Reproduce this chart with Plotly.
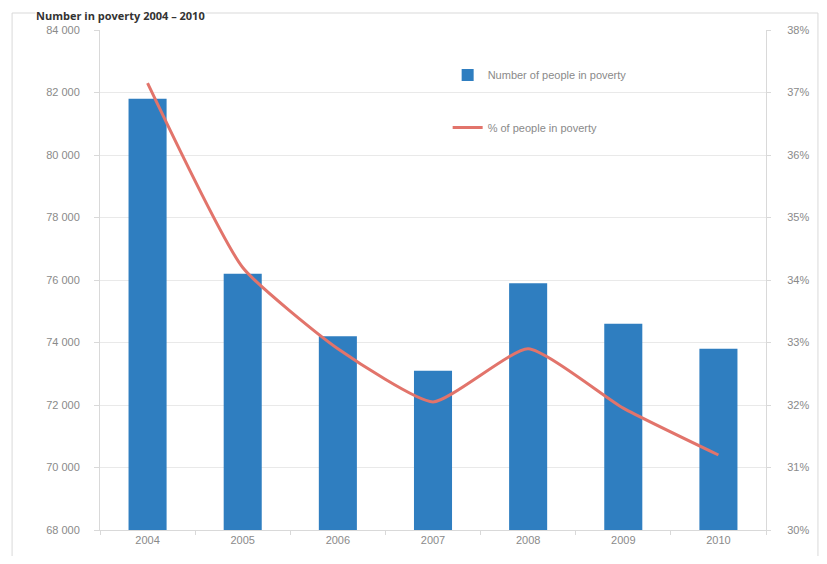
import plotly.graph_objects as go

years = ["2004", "2005", "2006", "2007", "2008", "2009", "2010"]
people_in_poverty = [81800, 76200, 74200, 73100, 75900, 74600, 73800]
pct_in_poverty = [37.15, 34.2, 32.9, 32.05, 32.9, 31.95, 31.2]

left_ticks = [68000, 70000, 72000, 74000, 76000, 78000, 80000, 82000, 84000]
left_labels = ["68 000", "70 000", "72 000", "74 000", "76 000", "78 000", "80 000", "82 000", "84 000"]
right_ticks = [30, 31, 32, 33, 34, 35, 36, 37, 38]
right_labels = ["30%", "31%", "32%", "33%", "34%", "35%", "36%", "37%", "38%"]

bar_name = "Number of people in poverty"
line_name = "% of people in poverty"
title_text = "Number in poverty 2004 – 2010"

fig = go.Figure()
fig.add_trace(go.Bar(x=years, y=people_in_poverty, name=bar_name,
                     marker=dict(color="#2F7EC0", line=dict(width=0)),
                     legend="legend", yaxis="y", showlegend=True))
fig.add_trace(go.Scatter(x=years, y=pct_in_poverty, name=line_name, mode="lines",
                         line=dict(color="#E2746B", width=3, shape="spline", smoothing=0.5),
                         legend="legend2", yaxis="y2", showlegend=True))

tick_font = dict(family="Liberation Sans, Arial", size=11, color="#8A8A8A")
legend_font = dict(family="Liberation Sans, Arial", size=11, color="#8A8A8A")

fig.update_layout(
    width=811, height=548,
    margin=dict(l=92, r=53, t=22, b=26),
    paper_bgcolor="white", plot_bgcolor="white",
    bargap=0.6,
    showlegend=True,
    xaxis=dict(type="category", showgrid=False, showline=True, linecolor="#D9D9D9",
               ticks="outside", tickson="boundaries", ticklen=4, tickcolor="#D9D9D9",
               tickfont=tick_font, automargin=False),
    yaxis=dict(range=[68000, 84000], tickvals=left_ticks, ticktext=left_labels,
               showgrid=True, gridcolor="#E9E9E9", gridwidth=1, zeroline=False,
               showline=True, linecolor="#D9D9D9", ticks="outside", ticklen=5,
               tickcolor="#D9D9D9", tickfont=tick_font, ticklabelstandoff=12,
               automargin=False),
    yaxis2=dict(range=[30, 38], tickvals=right_ticks, ticktext=right_labels,
                overlaying="y", side="right", showgrid=False, zeroline=False,
                showline=True, linecolor="#D9D9D9", ticks="outside", ticklen=4,
                tickcolor="#D9D9D9", tickfont=tick_font, ticklabelstandoff=14,
                automargin=False),
    legend=dict(x=0.522, y=0.91, xanchor="left", yanchor="middle",
                bgcolor="rgba(0,0,0,0)", font=legend_font),
    legend2=dict(x=0.522, y=0.805, xanchor="left", yanchor="middle",
                 bgcolor="rgba(0,0,0,0)", font=legend_font),
    shapes=[dict(type="rect", xref="paper", yref="paper", x0=-0.132, x1=1.078, y0=-0.058, y1=1.034,
                 line=dict(color="#D9D9D9", width=1), fillcolor="rgba(0,0,0,0)", layer="below")],
    annotations=[dict(text="<b>" + title_text + "</b>", xref="paper", yref="paper",
                      x=-0.098, y=1.0, yshift=23, xanchor="left", yanchor="top", showarrow=False,
                      bgcolor="white", borderpad=0,
                      font=dict(family="Open Sans, Arial", size=11, color="#333333"))],
)

fig.write_html("out.html")
